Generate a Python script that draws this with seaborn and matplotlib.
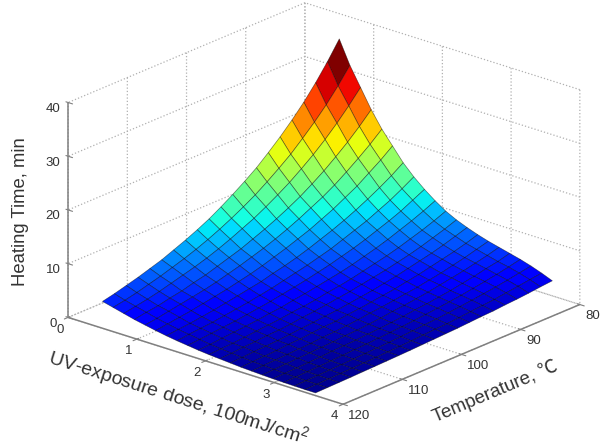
import numpy as np
import matplotlib
matplotlib.use("Agg")
import matplotlib.pyplot as plt
import seaborn as sns

# Surface samples: one list per UV dose, running from 80 to 120 degrees C
dose_values = [0.5, 0.655, 0.81, 0.965, 1.12, 1.275, 1.43, 1.585, 1.74, 1.895, 2.05,
               2.205, 2.36, 2.515, 2.67, 2.825, 2.98, 3.135, 3.29, 3.445, 3.6]
temperature_values = [80, 82, 84, 86, 88, 90, 92, 94, 96, 98, 100,
                      102, 104, 106, 108, 110, 112, 114, 116, 118, 120]
time_by_dose = [
    [35.3,32.0,29.0,26.3,23.9,21.7,19.7,17.8,16.2,14.7,13.3,12.0,10.9,9.9,9.0,8.1,7.4,6.7,6.1,5.5,5.0],
    [31.0,28.1,25.5,23.2,21.1,19.1,17.4,15.8,14.3,13.0,11.8,10.7,9.7,8.8,8.0,7.3,6.6,6.0,5.4,4.9,4.5],
    [27.5,25.0,22.7,20.6,18.7,17.0,15.4,14.0,12.7,11.5,10.5,9.5,8.6,7.8,7.1,6.5,5.9,5.3,4.8,4.4,4.0],
    [24.0,21.8,19.8,18.0,16.3,14.8,13.4,12.2,11.1,10.1,9.2,8.3,7.6,6.9,6.2,5.7,5.1,4.7,4.2,3.9,3.5],
    [21.0,19.1,17.4,15.8,14.3,13.0,11.9,10.8,9.8,8.9,8.1,7.4,6.7,6.1,5.5,5.0,4.6,4.2,3.8,3.4,3.1],
    [18.5,16.8,15.3,13.8,12.6,11.4,10.4,9.4,8.6,7.8,7.1,6.4,5.8,5.3,4.8,4.4,4.0,3.6,3.3,3.0,2.7],
    [16.0,14.5,13.2,12.0,10.9,9.9,9.0,8.2,7.4,6.7,6.1,5.6,5.0,4.6,4.2,3.8,3.4,3.1,2.8,2.6,2.35],
    [14.0,12.7,11.5,10.5,9.5,8.7,7.9,7.1,6.5,5.9,5.4,4.9,4.4,4.0,3.6,3.3,3.0,2.7,2.5,2.3,2.05],
    [12.3,11.2,10.1,9.2,8.4,7.6,6.9,6.3,5.7,5.2,4.7,4.3,3.9,3.5,3.2,2.9,2.6,2.4,2.2,2.0,1.8],
    [10.8,9.8,8.9,8.1,7.3,6.6,6.0,5.4,4.9,4.5,4.1,3.7,3.4,3.0,2.8,2.5,2.3,2.1,1.9,1.7,1.55],
    [9.5,8.6,7.8,7.1,6.4,5.8,5.3,4.8,4.3,3.9,3.6,3.2,2.9,2.7,2.4,2.2,2.0,1.8,1.6,1.5,1.35],
    [8.5,7.7,7.0,6.3,5.7,5.2,4.7,4.3,3.9,3.5,3.2,2.9,2.6,2.4,2.1,1.9,1.8,1.6,1.5,1.3,1.2],
    [7.7,7.0,6.3,5.7,5.2,4.7,4.2,3.8,3.4,3.1,2.8,2.5,2.3,2.1,1.9,1.7,1.5,1.4,1.3,1.15,1.05],
    [7.0,6.3,5.7,5.2,4.7,4.2,3.8,3.4,3.1,2.8,2.5,2.3,2.0,1.9,1.7,1.5,1.4,1.2,1.1,1.0,0.9],
    [6.4,5.8,5.2,4.7,4.2,3.8,3.4,3.1,2.8,2.5,2.3,2.0,1.8,1.6,1.5,1.3,1.2,1.1,1.0,0.9,0.8],
    [5.9,5.3,4.8,4.3,3.9,3.5,3.1,2.8,2.5,2.3,2.0,1.8,1.6,1.5,1.3,1.2,1.1,1.0,0.9,0.8,0.7],
    [5.4,4.8,4.4,3.9,3.5,3.1,2.8,2.5,2.3,2.0,1.8,1.6,1.5,1.3,1.2,1.1,0.95,0.85,0.77,0.69,0.62],
    [4.9,4.4,3.95,3.55,3.2,2.85,2.55,2.3,2.05,1.85,1.65,1.5,1.35,1.2,1.1,0.96,0.86,0.78,0.7,0.63,0.57],
    [4.3,3.9,3.5,3.15,2.85,2.55,2.3,2.05,1.85,1.7,1.5,1.35,1.2,1.1,1.0,0.9,0.8,0.73,0.65,0.59,0.53],
    [3.6,3.3,3.0,2.7,2.4,2.2,2.0,1.8,1.6,1.5,1.35,1.2,1.1,1.0,0.9,0.82,0.75,0.68,0.61,0.55,0.5],
    [2.8,2.6,2.35,2.15,2.0,1.8,1.7,1.55,1.4,1.3,1.2,1.1,1.0,0.92,0.85,0.78,0.72,0.65,0.6,0.55,0.5],
]
dose_ticks = [0, 1, 2, 3, 4]
temperature_ticks = [80, 90, 100, 110, 120]
time_ticks = [0, 10, 20, 30, 40]

sns.set_theme(style="white")
plt.rcParams["font.family"] = ["Liberation Sans", "Noto Sans CJK SC", "DejaVu Sans"]
plt.rcParams["mathtext.default"] = "regular"

W, H = 611, 447
fig = plt.figure(figsize=(W / 100, H / 100), dpi=100)
ax = fig.add_axes([43.6 / W, -36.9 / H, 546 / W, 546 / H], projection="3d")
ax.set_proj_type("ortho")
ax.view_init(elev=21.4, azim=-49.1)
ax.set_box_aspect((364, 362, 231), zoom=1.0)

X, Y = np.meshgrid(dose_values, temperature_values, indexing="ij")
Z = np.array(time_by_dose)
ax.plot_surface(X, Y, Z, rstride=1, cstride=1, cmap=matplotlib.colormaps["jet"],
                vmin=0.0, vmax=31, shade=False, edgecolor=(0, 0, 0, 0.5), linewidth=0.5,
                antialiased=True)

ax.set_xlim(0, 4, view_margin=0)
ax.set_ylim(120, 80, view_margin=0)
ax.set_zlim(0, 40, view_margin=0)
ax.set_xticks(dose_ticks)
ax.set_yticks(temperature_ticks)
ax.set_zticks(time_ticks)

for axis in (ax.xaxis, ax.yaxis, ax.zaxis):
    axis.set_pane_color((1, 1, 1, 0))
    axis.pane.set_edgecolor("none")
    axis.line.set_color("#808080")
    axis.line.set_linewidth(1.1)
    axis._axinfo["grid"].update(color="#b0b0b0", linestyle=":", linewidth=0.9)
    axis._axinfo["tick"]["linewidth"] = {True: 0.8, False: 0.5}
ax.zaxis.set_ticks_position("upper")
ax.zaxis.set_label_position("upper")
ax.tick_params(labelsize=9.5, labelcolor="#333333", color="#808080")
ax.tick_params(axis="x", pad=-4)
ax.tick_params(axis="y", pad=-4)
ax.tick_params(axis="z", pad=-2)
plt.setp(ax.get_xticklabels(), ha="right")
plt.setp(ax.get_yticklabels(), ha="left")
ax.set_xlabel("UV-exposure dose, 100mJ/cm$^2$", labelpad=3, fontsize=14, color="#333333")
ax.set_ylabel("Temperature, ℃", labelpad=4, fontsize=13.5, color="#333333")
ax.set_zlabel("Heating Time, min", labelpad=-2, fontsize=13.3, color="#333333")

fig.savefig("out.png", dpi=100, facecolor="white")
